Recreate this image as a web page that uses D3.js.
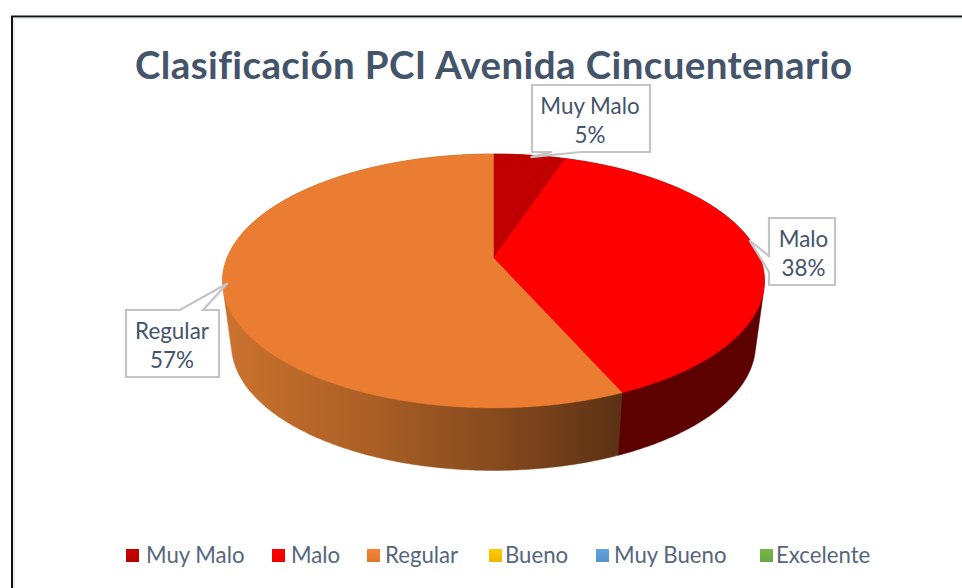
<!DOCTYPE html>
<html>
<head>
<meta charset="utf-8">
<script src="https://cdnjs.cloudflare.com/ajax/libs/d3/7.8.5/d3.min.js"></script>
<style>
html,body{margin:0;padding:0;background:#fff;overflow:hidden}
text{font-family:Lato,"Open Sans",sans-serif;font-variant-ligatures:none}
</style>
</head>
<body>
<svg id="c" width="962" height="588"></svg>
<script>
const titleText = "Clasificación PCI Avenida Cincuentenario";
const categories = ["Muy Malo","Malo","Regular","Bueno","Muy Bueno","Excelente"];
const values = [5.1,38.3,56.6,0,0,0];
const labels = ["5%","38%","57%"];
const topColors = ["#c00000","#ff0000","#ea7d31","#ffc000","#5b9bd5","#70ad47"];
const sideColors = ["#600000","#5c0000","url(#regSide)","#806000","#2e5a80","#38562a"];
const legendX = [126,272,367,489,596,760];
const legendTextX = [146,291,385,505,614,776];
const boxes = [[532,85,118,67],[769,218,66,67],[126,310,93,67]];
const labelShift = [-1,1.5,-0.5];
const wedges = [[[552,152],[581,152]],[[769,256],[769,272]],[[180,310],[203,310]]];
const tipShift = [[1,2],[-8,-12],[5,-1]];

const svg = d3.select("#c");
const defs = svg.append("defs");
const g = defs.append("linearGradient").attr("id","regSide").attr("gradientUnits","userSpaceOnUse")
  .attr("x1",226).attr("x2",622).attr("y1",0).attr("y2",0);
[[0,"#cb722e"],[0.35,"#ac6026"],[0.7,"#84491d"],[1,"#5b3114"]].forEach(s=>g.append("stop").attr("offset",s[0]).attr("stop-color",s[1]));
categories.forEach((c,i)=>{
  const lg = defs.append("linearGradient").attr("id","sw"+i).attr("x1",0).attr("x2",0).attr("y1",0).attr("y2",1);
  lg.append("stop").attr("offset",0).attr("stop-color",d3.color(topColors[i]).brighter(0.15));
  lg.append("stop").attr("offset",1).attr("stop-color",d3.color(topColors[i]).darker(0.15));
});

// frame
svg.append("path").attr("d","M12,588V16.5H962").attr("fill","none").attr("stroke","#111").attr("stroke-width",2);
svg.append("path").attr("d","M14,588V18.5H962").attr("fill","none").attr("stroke","#e6ebef").attr("stroke-width",1.5);

// perspective disc
const cx=493.5, k=-0.181, A=122.8, B=266.5;
const proj=(th,r,z)=>{
  const u=Math.sin(th)*r, v=-Math.cos(th)*r, d=1+k*v;
  return z ? [cx+0.967*B*u/d, 322+0.99*A*v/d] : [cx+B*u/d, 258+A*v/d];
};
const pie=d3.pie().sort(null).value(d=>d)(values);
const line=d3.line();
const sweep=(a,b,z)=>{
  const n=Math.max(2,Math.ceil((b-a)/0.01));
  return d3.range(n+1).map(i=>proj(a+(b-a)*i/n,1,z));
};
const act=pie.filter(p=>p.value>0);
// side walls: hull of the upper and lower rims closes the silhouette
svg.append("g").selectAll("path").data(act).join("path")
  .attr("d",p=>line(d3.polygonHull(sweep(p.startAngle,p.endAngle,0).concat(sweep(p.startAngle,p.endAngle,1))))+"Z")
  .attr("fill",p=>sideColors[p.index]).attr("stroke",p=>sideColors[p.index]).attr("stroke-width",0.5);
// top faces
svg.append("g").selectAll("path").data(act).join("path")
  .attr("d",p=>line([proj(0,0,0)].concat(sweep(p.startAngle,p.endAngle,0)))+"Z")
  .attr("fill",p=>topColors[p.index]).attr("stroke",p=>topColors[p.index]).attr("stroke-width",0.4);

// title
svg.append("text").attr("x",135).attr("y",79).attr("font-size",38.5).attr("font-weight",700)
  .attr("fill","#44546a").attr("textLength",717).attr("lengthAdjust","spacing").text(titleText);

// callouts
const co=svg.append("g").selectAll("g").data(act).join("g");
co.append("path").attr("d",(p,i)=>{
  const [x,y,w,h]=boxes[i],[a,b]=wedges[i];
  const m=(p.startAngle+p.endAngle)/2, t=proj(m,1,0);
  const tip=[t[0]+tipShift[i][0],t[1]+tipShift[i][1]];
  const ring=[[x,y]];
  if(a[1]===y) ring.push(a,tip,b);
  ring.push([x+w,y],[x+w,y+h]);
  if(a[1]===y+h) ring.push(b,tip,a);
  ring.push([x,y+h]);
  if(a[0]===x) ring.push(b,tip,a);
  return line(ring)+"Z";
}).attr("fill","#fff").attr("stroke","#c4c4c4").attr("stroke-width",2.2);
co.append("text").attr("text-anchor","middle").attr("font-size",22.4).attr("fill","#44546a")
  .attr("x",(p,i)=>boxes[i][0]+boxes[i][2]/2+labelShift[i]).attr("y",(p,i)=>boxes[i][1]+28.5).text(p=>categories[p.index]);
co.append("text").attr("text-anchor","middle").attr("font-size",22.4).attr("fill","#44546a")
  .attr("x",(p,i)=>boxes[i][0]+boxes[i][2]/2+labelShift[i]).attr("y",(p,i)=>boxes[i][1]+57.5).text((p,i)=>labels[i]);

// legend
const lg=svg.append("g").selectAll("g").data(categories).join("g");
lg.append("rect").attr("x",(d,i)=>legendX[i]).attr("y",549).attr("width",13).attr("height",13).attr("fill",(d,i)=>`url(#sw${i})`);
lg.append("text").attr("x",(d,i)=>legendTextX[i]).attr("y",563).attr("font-size",22.2).attr("fill","#56667c").text(d=>d);
</script>
</body>
</html>
